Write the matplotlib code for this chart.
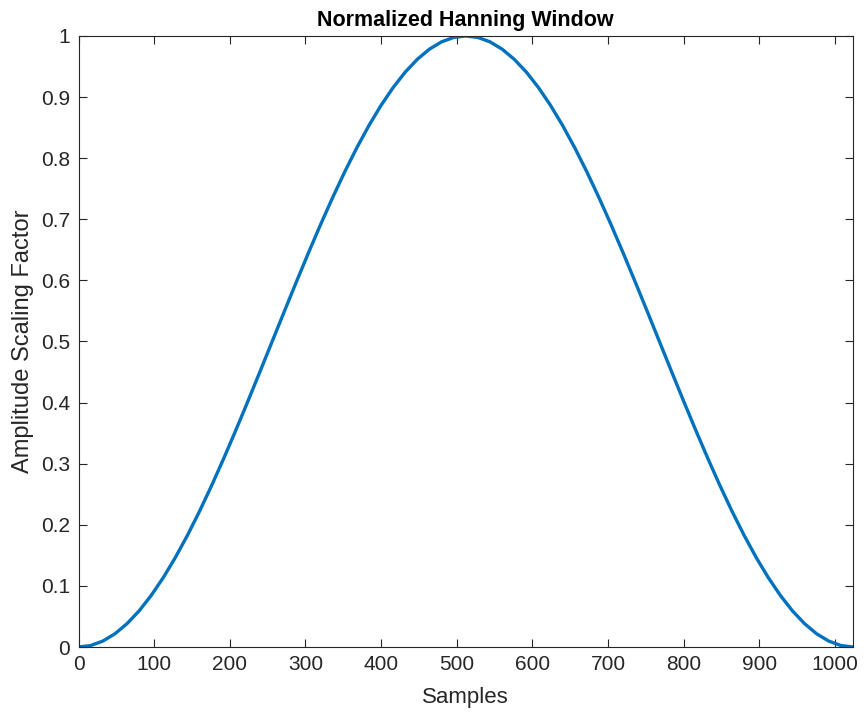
import matplotlib
matplotlib.use("Agg")
import matplotlib.pyplot as plt

# samples every 16 samples
samples = list(range(0, 1025, 16))
half = [
    0.0, 0.0024, 0.0096, 0.0215, 0.0381, 0.0590, 0.0843, 0.1135,
    0.1464, 0.1828, 0.2222, 0.2643, 0.3087, 0.3549, 0.4025, 0.4510,
    0.5, 0.5490, 0.5975, 0.6451, 0.6913, 0.7357, 0.7778, 0.8172,
    0.8536, 0.8865, 0.9157, 0.9410, 0.9619, 0.9785, 0.9904, 0.9976,
    1.0,
]
amplitude = half + half[-2::-1]

x_ticks = list(range(0, 1001, 100))
y_ticks = [0, 0.1, 0.2, 0.3, 0.4, 0.5, 0.6, 0.7, 0.8, 0.9, 1]
y_labels = ["0", "0.1", "0.2", "0.3", "0.4", "0.5", "0.6", "0.7", "0.8", "0.9", "1"]

plt.rcParams["font.family"] = ["Liberation Sans", "DejaVu Sans"]

fig = plt.figure(figsize=(8.64, 7.15), dpi=100)
ax = fig.add_axes([0.0909, 0.0951, 0.8964, 0.8546])
ax.plot(samples, amplitude, color="#0072BD", linewidth=2.4, solid_capstyle="butt")

ax.set_xlim(0, 1024)
ax.set_ylim(0, 1)
ax.set_xticks(x_ticks)
ax.set_yticks(y_ticks)
ax.set_yticklabels(y_labels)
ax.tick_params(direction="in", length=6, width=0.8, color="#262626",
               labelsize=15, labelcolor="#262626", top=True, right=True, pad=6)
for side in ax.spines.values():
    side.set_color("#262626")
    side.set_linewidth(0.8)

ax.set_xlabel("Samples", fontsize=16, color="#262626", labelpad=9)
ax.set_ylabel("Amplitude Scaling Factor", fontsize=17, color="#262626", labelpad=5)
ax.set_title("Normalized Hanning Window", fontsize=15.5, fontweight="bold", pad=7)

fig.savefig("out.png", dpi=100)
